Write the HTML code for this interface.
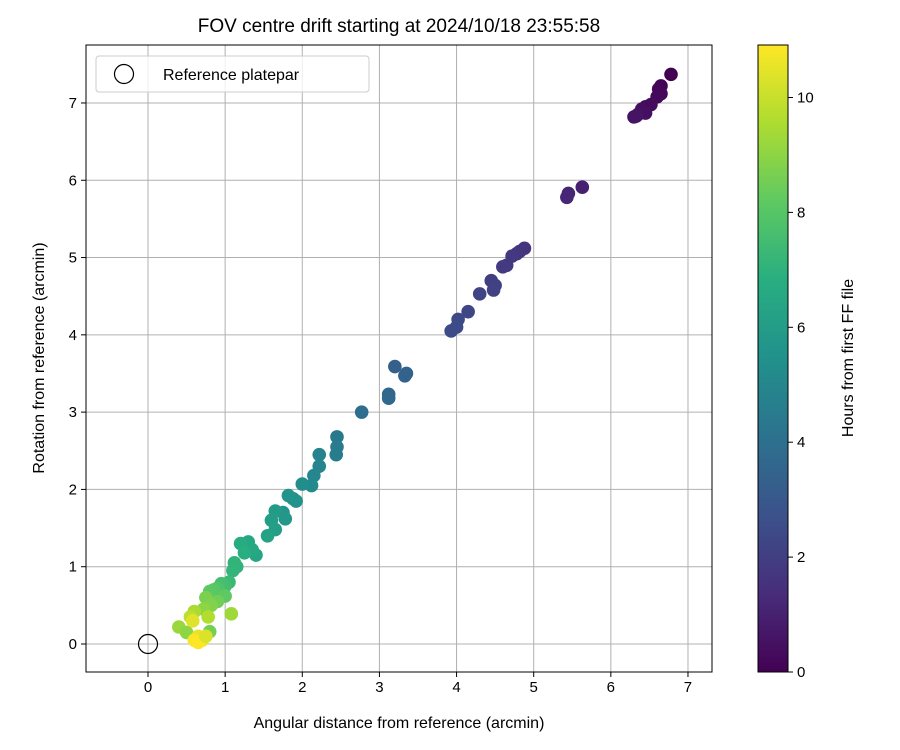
<!DOCTYPE html>
<html><head><meta charset="utf-8"><style>body{margin:0;background:#fff}svg{display:block;font-family:"Liberation Sans","DejaVu Sans",sans-serif}</style></head>
<body>
<svg id="chart" width="900" height="750"></svg>
<script>
const xs=[6.78,6.65,6.62,6.65,6.6,6.52,6.45,6.4,6.45,6.35,6.3,6.33,5.63,5.45,5.43,4.88,4.82,4.78,4.72,4.65,4.6,4.45,4.5,4.48,4.3,4.15,4.02,4.0,3.93,3.2,3.35,3.33,3.12,3.12,2.77,2.45,2.45,2.44,2.22,2.22,2.15,2.12,2.0,1.92,1.88,1.82,1.75,1.78,1.65,1.6,1.65,1.55,1.4,1.3,1.35,1.2,1.25,1.15,1.12,1.1,1.05,1.0,0.95,0.9,0.85,0.8,1.0,0.9,0.75,0.82,0.72,1.08,0.4,0.5,0.6,0.55,0.78,0.8,0.65,0.7,0.6,0.65,0.75,0.58];
const ys=[7.37,7.22,7.18,7.12,7.08,6.98,6.95,6.92,6.87,6.85,6.82,6.83,5.91,5.83,5.78,5.12,5.08,5.05,5.02,4.9,4.88,4.7,4.64,4.58,4.53,4.3,4.2,4.1,4.05,3.59,3.5,3.47,3.23,3.18,3.0,2.68,2.55,2.45,2.45,2.3,2.18,2.05,2.07,1.85,1.88,1.92,1.7,1.62,1.72,1.6,1.48,1.4,1.15,1.32,1.22,1.3,1.18,1.0,1.05,0.95,0.8,0.75,0.78,0.72,0.7,0.68,0.62,0.55,0.6,0.5,0.45,0.39,0.22,0.15,0.42,0.35,0.35,0.16,0.1,0.05,0.05,0.02,0.1,0.3];
const hours=[0.0,0.1,0.15,0.2,0.25,0.3,0.35,0.4,0.45,0.5,0.55,0.6,1.0,1.1,1.15,1.6,1.65,1.7,1.75,1.8,1.85,2.0,2.05,2.1,2.2,2.3,2.4,2.45,2.5,3.3,3.4,3.45,3.6,3.65,3.9,4.4,4.5,4.55,4.8,4.9,5.0,5.1,5.3,5.5,5.55,5.6,5.7,5.75,5.9,6.0,6.05,6.2,6.4,6.5,6.55,6.7,6.8,7.0,7.05,7.1,7.3,7.5,7.6,7.8,8.0,8.1,8.2,8.5,8.7,8.8,9.0,9.3,9.2,9.0,9.5,9.8,9.6,8.6,10.5,10.6,10.8,10.9,10.3,10.4];
const xTicks=[0,1,2,3,4,5,6,7];
const yTicks=[0,1,2,3,4,5,6,7];
const cTicks=[0,2,4,6,8,10];
const cMax=10.9;

const NS="http://www.w3.org/2000/svg";
const svg=document.getElementById('chart');
const L=86,R=712,T=45,B=672;
const X=v=>148+v*77.14;
const Y=v=>644-v*77.29;
const CB=v=>672-v*57.45;
const stops=["#440154","#472d7b","#3b528b","#2c728e","#21918c","#28ae80","#5ec962","#addc30","#fde725"];
function hex(h){return [1,3,5].map(i=>parseInt(h.substr(i,2),16));}
function viridis(t){t=Math.max(0,Math.min(1,t));const p=t*8,i=Math.min(7,Math.floor(p)),f=p-i;const a=hex(stops[i]),b=hex(stops[i+1]);return 'rgb('+a.map((c,k)=>Math.round(c+(b[k]-c)*f)).join(',')+')';}
function el(tag,attrs,parent){const e=document.createElementNS(NS,tag);for(const k in attrs)e.setAttribute(k,attrs[k]);(parent||svg).appendChild(e);return e;}
function txt(s,attrs){const e=el('text',attrs);e.textContent=s;return e;}

xTicks.forEach(v=>{const g=el('line',{x1:X(v),x2:X(v),y1:T,y2:B,stroke:'#b0b0b0','stroke-width':1});

});
yTicks.forEach(v=>{const g=el('line',{x1:L,x2:R,y1:Y(v),y2:Y(v),stroke:'#b0b0b0','stroke-width':1});

});

for(let i=0;i<xs.length;i++){
 const c=el('circle',{cx:X(xs[i]),cy:Y(ys[i]),r:6.8,fill:viridis(hours[i]/cMax)});
 
 
}
const ref=el('circle',{cx:X(0),cy:Y(0),r:9.5,fill:'none',stroke:'#000','stroke-width':1.2});



const fr=el('rect',{x:L,y:T,width:R-L,height:B-T,fill:'none',stroke:'#000','stroke-width':1});



xTicks.forEach(v=>{const t=el('line',{x1:X(v),x2:X(v),y1:B,y2:B+5,stroke:'#000'});


const l=txt(String(v),{x:X(v),y:B+20,'text-anchor':'middle','font-size':15});

});
yTicks.forEach(v=>{const t=el('line',{x1:L-5,x2:L,y1:Y(v),y2:Y(v),stroke:'#000'});


const l=txt(String(v),{x:L-9,y:Y(v)+5,'text-anchor':'end','font-size':15});

});

let t1=txt('FOV centre drift starting at 2024/10/18 23:55:58',{x:399,y:32,'text-anchor':'middle','font-size':19});


let t2=txt('Angular distance from reference (arcmin)',{x:399,y:728,'text-anchor':'middle','font-size':16});


let t3=txt('Rotation from reference (arcmin)',{x:0,y:0,'text-anchor':'middle','font-size':16,transform:'translate(44,358) rotate(-90)'});



const lg=el('rect',{x:96,y:56,width:273,height:36,rx:3,fill:'#fff','fill-opacity':0.8,stroke:'#ccc'});


const lm=el('circle',{cx:124,cy:74,r:9.5,fill:'none',stroke:'#000','stroke-width':1.2});


const lt=txt('Reference platepar',{x:163,y:80,'font-size':16});



const defs=el('defs',{});
const grad=el('linearGradient',{id:'vir',x1:0,y1:1,x2:0,y2:0},defs);
stops.forEach((s,i)=>el('stop',{offset:i/8,'stop-color':s},grad));
const cb=el('rect',{x:758,y:45,width:30,height:627,fill:'url(#vir)',stroke:'#000','stroke-width':1});


cTicks.forEach(v=>{const t=el('line',{x1:788,x2:793,y1:CB(v),y2:CB(v),stroke:'#000'});


const l=txt(String(v),{x:797,y:CB(v)+5,'font-size':15});

});
let t4=txt('Hours from first FF file',{x:0,y:0,'text-anchor':'middle','font-size':16,transform:'translate(853,358) rotate(-90)'});


</script>
</body></html>
